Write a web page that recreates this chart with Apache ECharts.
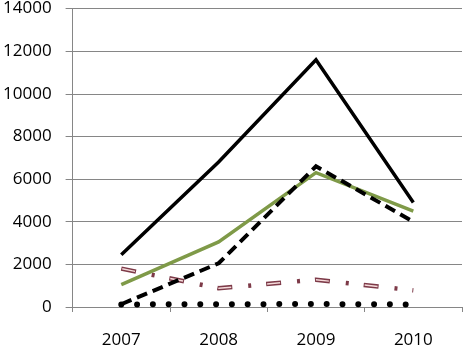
<!DOCTYPE html>
<html><head><meta charset="utf-8">
<script src="https://cdn.jsdelivr.net/npm/echarts@6/dist/echarts.min.js"></script>
<style>html,body{margin:0;padding:0;background:#fff}#c{width:464px;height:349px}</style>
</head><body><div id="c"></div>
<script>
const categories = ['2007', '2008', '2009', '2010'];
const yTicks = [0, 2000, 4000, 6000, 8000, 10000, 12000, 14000];
const solidBlack = [2450, 6800, 11600, 4900];
const greenLine = [1050, 3050, 6300, 4500];
const dashedBlack = [130, 2050, 6600, 4000];
const dashDotPink = [1800, 880, 1280, 780];
const dottedBlack = [120, 130, 140, 120];

const chart = echarts.init(document.getElementById('c'), null, {renderer: 'canvas'});
const font = '"Open Sans", sans-serif';
function line(name, data, color, width, type, extra) {
  return Object.assign({
    name, type: 'line', data, symbol: 'none', clip: true,
    lineStyle: {color, width, type, cap: 'butt', join: 'miter'}
  }, extra || {});
}
chart.setOption({
  animation: false,
  backgroundColor: '#fff',
  grid: {left: 70, right: 2, top: 7, height: 303, containLabel: false},
  xAxis: {
    type: 'category', data: categories, boundaryGap: true,
    axisLine: {lineStyle: {color: '#868686', width: 1}},
    axisTick: {show: true, length: 5, lineStyle: {color: '#868686'}},
    axisLabel: {color: '#000', fontFamily: font, fontSize: 17, margin: 25},
    splitLine: {show: false}
  },
  yAxis: {
    type: 'value', min: yTicks[0], max: yTicks[yTicks.length - 1], interval: 2000,
    axisLine: {show: true, lineStyle: {color: '#868686', width: 1}},
    axisTick: {show: true, length: 7, lineStyle: {color: '#868686'}},
    axisLabel: {color: '#000', fontFamily: font, fontSize: 17, margin: 21,
      formatter: v => String(v)},
    splitLine: {show: true, lineStyle: {color: '#868686', width: 1}}
  },
  series: [
    line('dotted', dottedBlack, '#000', 6, [0, 15.8], {lineStyle: {color: '#000', width: 6, type: [0, 15.8], cap: 'round'}}),
    line('pinkOuter', dashDotPink, '#7d3a48', 4.5, [15, 16, 3, 15]),
    line('pinkInner', dashDotPink, '#f5dada', 1.5, [13, 36], {lineStyle: {color: '#f5dada', width: 1.5, type: [13, 36], dashOffset: -1, cap: 'butt'}}),
    line('green', greenLine, '#7f9a48', 3.5, 'solid'),
    line('dashed', dashedBlack, '#000', 4, [11, 6]),
    line('solid', solidBlack, '#000', 3.5, 'solid')
  ]
});
</script></body></html>
